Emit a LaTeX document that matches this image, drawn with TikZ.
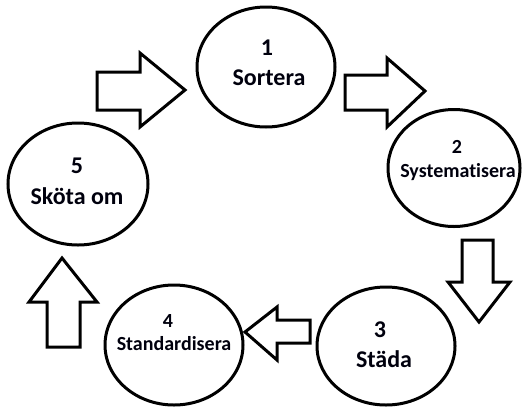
\documentclass[tikz,border=0pt]{standalone}
\usepackage{fontspec}
\setmainfont{Carlito}[Ligatures={NoCommon}]
\usetikzlibrary{shapes.geometric}

\tikzset{
  stage/.style={draw=black, line width=3pt, ellipse, inner sep=0pt},
  blockarrow/.style={draw=black, fill=white, line width=3pt, line join=miter},
  lbl/.style={text=black!95!blue, inner sep=0pt, anchor=base},
  big/.style={lbl, font=\bfseries\fontsize{24}{26}\selectfont},
  small/.style={lbl, font=\bfseries\fontsize{20}{22}\selectfont},
}

\begin{document}
\begin{tikzpicture}[x=1pt, y=-1pt]
  \useasboundingbox (0,0) rectangle (524,410);

  % the five stages
  \node[stage, minimum width=138pt, minimum height=120pt] (s1) at (266,67) {};
  \node[stage, minimum width=132pt, minimum height=117pt] (s2) at (454,168) {};
  \node[stage, minimum width=138pt, minimum height=118pt] (s3) at (386,346) {};
  \node[stage, minimum width=138pt, minimum height=120pt] (s4) at (174,345) {};
  \node[stage, minimum width=140pt, minimum height=122pt] (s5) at (78,184) {};

  % labels (placed on their baselines)
  \node[big]   (n1) at (267,55)  {1};
  \node[big]   (t1) at (269,85)  {Sortera};
  \node[small] (n2) at (457,153) {2};
  \node[small] (t2) at (458,177) {Systematisera};
  \node[big]   (n3) at (380,337) {3};
  \node[big]   (t3) at (384,367) {Städa};
  \node[small] (n4) at (168,327) {4};
  \node[small] (t4) at (174,350) {Standardisera};
  \node[big]   (n5) at (77,173)  {5};
  \node[big]   (t5) at (77,204)  {Sköta om};

  % block arrows between the stages
  \draw[blockarrow] (97,72) -- (140,72) -- (140,53) -- (185,90) -- (140,127)
        -- (140,110) -- (97,110) -- cycle;
  \draw[blockarrow] (345,75) -- (387,75) -- (387,58) -- (425,91) -- (387,127)
        -- (387,110) -- (345,110) -- cycle;
  \draw[blockarrow] (462,240) -- (493,240) -- (493,282) -- (510,282) -- (479,322)
        -- (448,282) -- (462,282) -- cycle;
  \draw[blockarrow] (310,320) -- (277,320) -- (277,307) -- (245,332) -- (277,360)
        -- (277,343) -- (310,343) -- cycle;
  \draw[blockarrow] (47,347) -- (47,302) -- (29,302) -- (62,258) -- (97,302)
        -- (80,302) -- (80,347) -- cycle;
\end{tikzpicture}
\end{document}
